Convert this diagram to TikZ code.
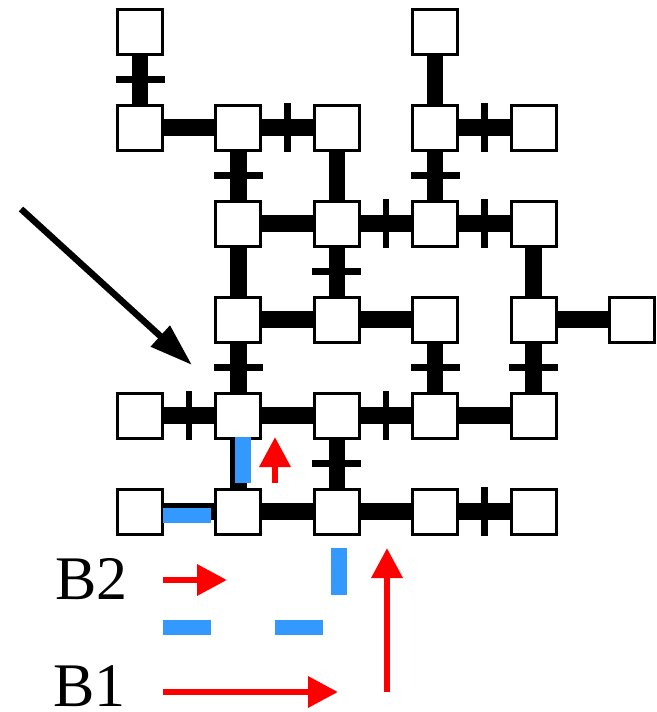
\documentclass[tikz,border=0pt]{standalone}
\usepackage{fontspec}
\setmainfont{Liberation Serif}
\usepackage{tikz}
\usetikzlibrary{arrows.meta,backgrounds}
\definecolor{wallblue}{RGB}{51,153,255}

\begin{document}
\begin{tikzpicture}[x=1pt,y=-1pt,
  cell/.style={draw,line width=3pt,fill=white,minimum size=45pt,inner sep=0pt},
  link/.style={line width=16.5pt},
  crossbar/.style={sloped,fill=black,minimum width=6.5pt,minimum height=49pt,inner sep=0pt},
  wall/.style={wallblue,line width=15.5pt},
  flowarrow/.style={red,line width=6.5pt,-{Triangle[length=30pt,width=30pt]}},
  pointer/.style={line width=6.5pt,-{Triangle[length=43pt,width=27pt]}},
  legend/.style={anchor=base west,inner sep=0pt,font=\fontsize{62}{70}\selectfont}]
\useasboundingbox (0,0) rectangle (656,712);
\foreach \c/\r in {0/0,3/0,0/1,1/1,2/1,3/1,4/1,1/2,2/2,3/2,4/2,1/3,2/3,3/3,4/3,5/3,
                   0/4,1/4,2/4,3/4,4/4,0/5,1/5,2/5,3/5,4/5}
  \node[cell] (n\c\r) at ({140+98.4*\c},{31.5+96*\r}) {};
\begin{scope}[on background layer]
\foreach \a/\b in {01/11,12/22,13/23,23/33,43/53,14/24,34/44,05/15,15/25,25/35,
                   30/31,21/22,12/13,42/43,14/15}
  \draw[link] (n\a) -- (n\b);
\foreach \a/\b in {11/21,31/41,22/32,32/42,04/14,24/34,35/45,00/01,11/12,31/32,
                   22/23,13/14,33/34,43/44,24/25}
  \draw[link] (n\a) -- node[crossbar] {} (n\b);
\end{scope}
\draw[wall] (243,437) -- (243,483);
\draw[wall] (163,515.5) -- (211,515.5);
\coordinate (upstart) at (275,483);
\coordinate (upend) at (275,437);
\draw[flowarrow] (upstart) -- (upend);
\coordinate (ptail) at (21,209);
\coordinate (ptip) at (192,365);
\draw[pointer] (ptail) -- (ptip);
\node[legend] (btwo) at (55,599.5) {B2};
\node[legend] (bone) at (53,706.5) {B1};
\coordinate (twostart) at (163,580);
\coordinate (twoend) at (227,580);
\draw[flowarrow] (twostart) -- (twoend);
\coordinate (onestart) at (163,692);
\coordinate (oneend) at (338,692);
\draw[flowarrow] (onestart) -- (oneend);
\coordinate (risestart) at (387,692);
\coordinate (riseend) at (387,548);
\draw[flowarrow] (risestart) -- (riseend);
\draw[wall] (339,548) -- (339,595);
\draw[wall] (163,627.5) -- (211,627.5);
\draw[wall] (275,627.5) -- (323,627.5);
\end{tikzpicture}
\end{document}
